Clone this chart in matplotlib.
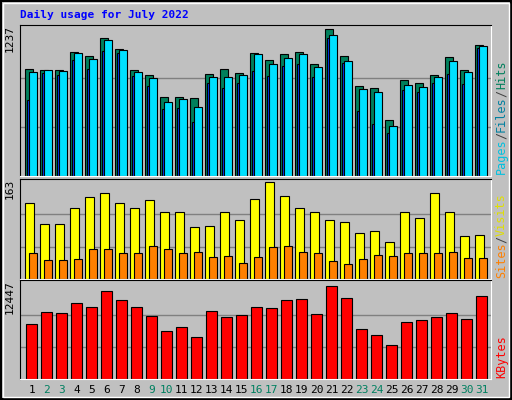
import numpy as np
import matplotlib.pyplot as plt
from matplotlib.patches import Rectangle

# Datos (julio 2022)
days = list(range(1, 32))
weekend = [2, 3, 9, 10, 16, 17, 23, 24, 30, 31]
hits = [900, 891, 891, 1043, 1009, 1161, 1071, 891, 849, 663, 663, 655, 857, 900, 866, 1034,
        975, 1026, 1043, 942, 1237, 1009, 756, 739, 472, 807, 781, 849, 1001, 891, 1105]
files = [874, 891, 883, 1034, 984, 1144, 1060, 874, 824, 621, 647, 579, 832, 832, 849, 1026,
         942, 992, 1026, 916, 1186, 967, 731, 706, 419, 765, 748, 832, 967, 874, 1093]
pages = [638, 866, 849, 975, 900, 1051, 1034, 840, 756, 562, 571, 453, 781, 739, 781, 883,
         840, 925, 942, 832, 1161, 950, 545, 436, 360, 722, 706, 781, 857, 773, 1077]
visits = [128, 92, 92, 120, 138, 145, 128, 120, 133, 112, 113, 87, 89, 112, 99, 135,
          163, 140, 119, 113, 99, 96, 78, 81, 62, 113, 103, 145, 113, 73, 74]
sites = [43, 32, 32, 34, 51, 51, 44, 44, 55, 51, 44, 46, 37, 39, 27, 37,
         53, 55, 46, 44, 30, 25, 34, 41, 39, 43, 44, 43, 46, 35, 35]
kbytes = [7144, 8722, 8590, 9905, 9379, 11351, 10168, 9379, 8196, 6224, 6749, 5435, 8853, 8064,
          8327, 9379, 9248, 10168, 10300, 8459, 12009, 10431, 6486, 5698, 4383, 7407, 7670,
          8064, 8590, 7801, 10694]
max_hits, max_visits, max_kbytes = 1237, 163, 12447

BG = "#C0C0C0"
MONO = "DejaVu Sans Mono"
FS = 8.5
x = np.arange(31) * 15.0

fig = plt.figure(figsize=(5.12, 4.0), dpi=100, facecolor=BG)
# marco biselado
fig.patches.append(Rectangle((0.002, 0.002), 0.996, 0.996, transform=fig.transFigure,
                             fill=False, edgecolor="black", lw=1.5))
fig.patches.append(Rectangle((0.006, 0.008), 0.988, 0.985, transform=fig.transFigure,
                             fill=False, edgecolor="white", lw=1))

fig.text(20 / 512, 1 - 15 / 400, "Daily usage for July 2022", color="#0000FF",
         fontsize=8, fontweight="bold", family=MONO, va="center")


def panel(bottom_px, top_px, vmax):
    ax = fig.add_axes([20 / 512, 1 - bottom_px / 400, 471 / 512, (bottom_px - top_px) / 400])
    ax.set_facecolor(BG)
    ax.set_xlim(-5.3, 465.7)
    ax.set_ylim(0, vmax * 1.03)
    for g in (vmax / 3, 2 * vmax / 3):
        ax.axhline(g, color="#808080", lw=1, zorder=0)
    ax.set_xticks([])
    ax.set_yticks([])
    for s in ("top", "left"):
        ax.spines[s].set_color("black")
    for s in ("bottom", "right"):
        ax.spines[s].set_color("white")
    return ax


kw = dict(align="edge", edgecolor="black", linewidth=0.8)

ax1 = panel(176, 25, max_hits)
ax1.bar(x, hits, width=7.5, color="#00805C", **kw)
ax1.bar(x + 1.3, pages, width=2.7, color="#0040FF", **kw)
ax1.bar(x + 4, files, width=7.5, color="#00E0FF", **kw)

ax2 = panel(279, 179, max_visits)
ax2.bar(x, visits, width=8.3, color="#FFFF00", **kw)
ax2.bar(x + 4, sites, width=7.5, color="#FF8000", **kw)

ax3 = panel(379, 280, max_kbytes)
ax3.bar(x + 1, kbytes, width=10.4, color="#FF0000", **kw)

# etiquetas de máximos a la izquierda
for ax, v in ((ax1, max_hits), (ax2, max_visits), (ax3, max_kbytes)):
    ax.text(-0.012, 1.0, str(v), transform=ax.transAxes, rotation=90, ha="right",
            va="top", fontsize=8, family=MONO)


# leyendas verticales a la derecha
def right_label(ax, parts):
    h_px = ax.get_position().height * 400
    adv = FS * 0.6 * 100 / 72 / h_px
    y = 0.01
    for txt, col in parts:
        ax.text(1.008, y, txt, transform=ax.transAxes, rotation=90, ha="left",
                va="bottom", fontsize=FS, family=MONO, color=col)
        y += len(txt) * adv


right_label(ax1, [("Pages", "#00C0E0"), ("/", "#404040"), ("Files", "#0080A0"),
                  ("/", "#404040"), ("Hits", "#00805C")])
right_label(ax2, [("Sites", "#FF8000"), ("/", "#404040"), ("Visits", "#E0E000")])
right_label(ax3, [("KBytes", "#FF0000")])

for i, d in enumerate(days):
    ax3.text(x[i] + 6.5, -0.11, str(d), transform=ax3.get_xaxis_transform(), ha="center",
             va="center", fontsize=8, family=MONO,
             color="#008060" if d in weekend else "black")

fig.savefig("out.png", dpi=100, facecolor=BG)
